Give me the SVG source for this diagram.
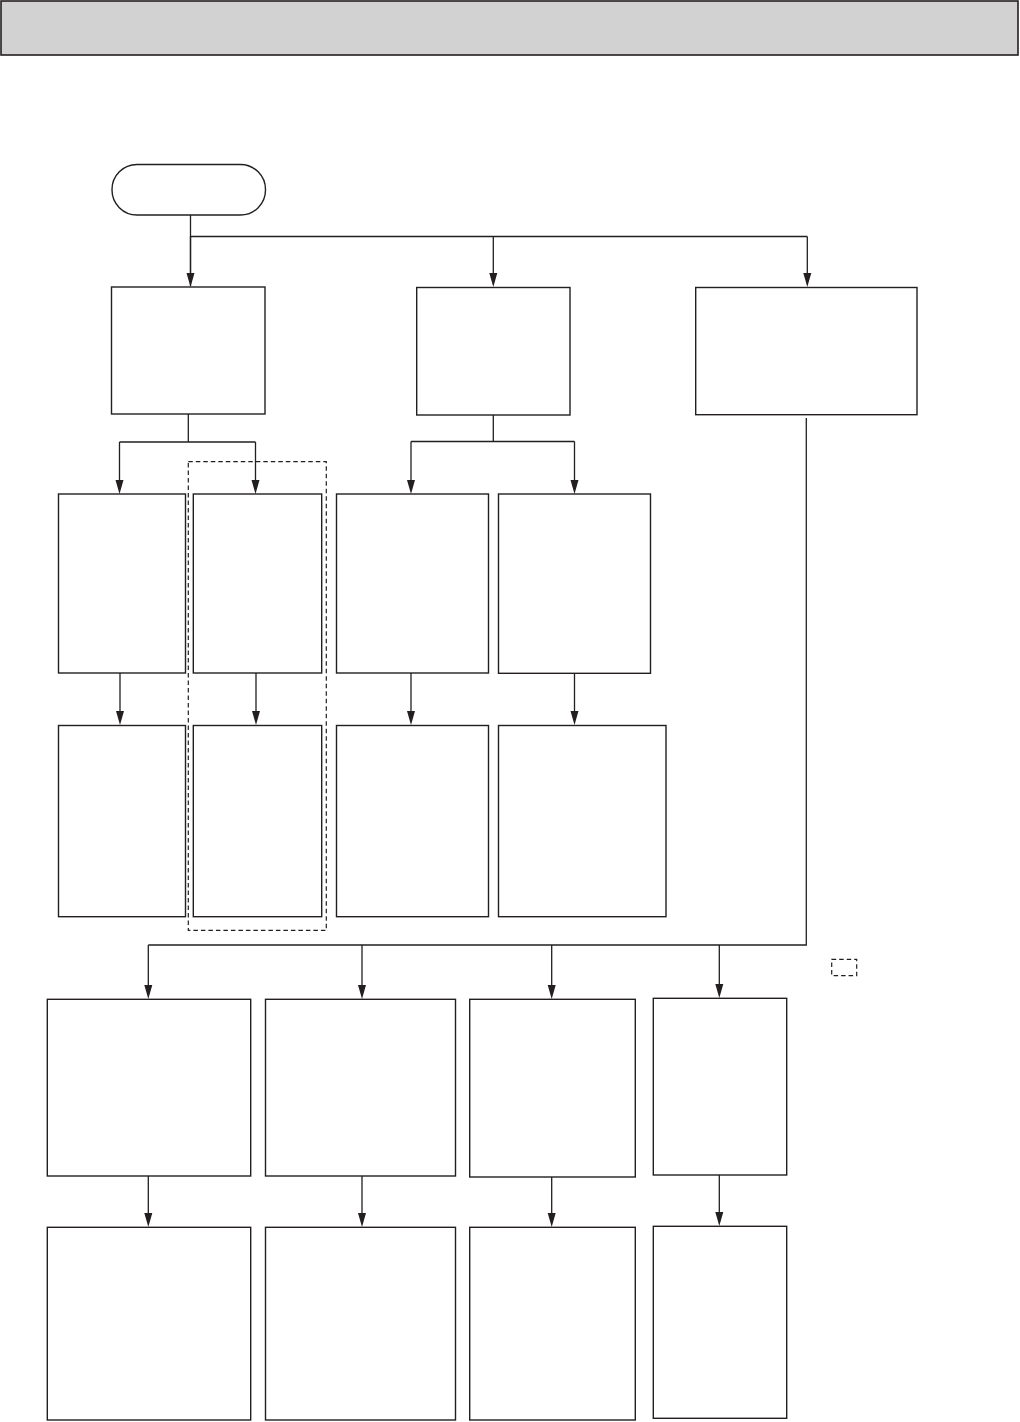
<svg xmlns="http://www.w3.org/2000/svg" width="1020" height="1422" viewBox="0 0 1020 1422">
<style>
.box{fill:#fff;stroke:#231f20;stroke-width:1.4}
.ln{fill:none;stroke:#231f20;stroke-width:1.3}
.arr{fill:none;stroke:#231f20;stroke-width:1.3;marker-end:url(#ah)}
.dash{fill:none;stroke:#231f20;stroke-width:1.2;stroke-dasharray:4.5,3}
</style>
<defs>
<marker id="ah" markerUnits="userSpaceOnUse" markerWidth="9" markerHeight="14" refX="4.5" refY="14" orient="auto-start-reverse" viewBox="0 0 9 14">
<path d="M0,0 L9,0 L4.5,14 Z" fill="#231f20" transform="rotate(0)"/>
</marker>
</defs>
<rect width="1020" height="1422" fill="#fff"/>
<rect id="header" x="1" y="1" width="1017" height="54" fill="#d2d2d2" stroke="#231f20" stroke-width="1.6"/>
<g id="connectors">
<path class="ln" d="M190.5,215 V236.5 H807.3"/>
<path class="ln" d="M190.5,236.5 V286" style="marker-end:none"/>
<path class="ln" d="M188.3,414 V442 M119.5,442 H255.5 M493.3,415 V441.5 M411,441.5 H574.5 M806.3,418 V945 H148.3"/>
</g>
<g id="arrows" fill="#231f20">
<!-- vertical arrows drawn as line + triangle -->
<path class="ln" d="M190.5,236.5 V274 M493.3,236.5 V274 M807.3,236.5 V274"/>
<path d="M186.5,273 L194.5,273 L190.5,287 Z M489.3,273 L497.3,273 L493.3,287 Z M803.3,273 L811.3,273 L807.3,287 Z"/>
<path class="ln" d="M119.5,442 V481 M255.5,442 V481 M411,441.5 V481 M574.5,441.5 V481"/>
<path d="M115.5,480 L123.5,480 L119.5,494 Z M251.5,480 L259.5,480 L255.5,494 Z M407,480 L415,480 L411,494 Z M570.5,480 L578.5,480 L574.5,494 Z"/>
<path class="ln" d="M120,673 V712 M256,673 V712 M411,673 V712 M574.5,673 V712"/>
<path d="M116,711 L124,711 L120,725 Z M252,711 L260,711 L256,725 Z M407,711 L415,711 L411,725 Z M570.5,711 L578.5,711 L574.5,725 Z"/>
<path class="ln" d="M148.3,945 V986 M362,945 V986 M551.7,945 V986 M719.3,945 V985"/>
<path d="M144.3,985 L152.3,985 L148.3,999 Z M358,985 L366,985 L362,999 Z M547.7,985 L555.7,985 L551.7,999 Z M715.3,984 L723.3,984 L719.3,998 Z"/>
<path class="ln" d="M148.3,1176 V1214 M362,1176 V1214 M551.7,1177 V1214 M719.3,1175 V1213"/>
<path d="M144.3,1213 L152.3,1213 L148.3,1227 Z M358,1213 L366,1213 L362,1227 Z M547.7,1213 L555.7,1213 L551.7,1227 Z M715.3,1212 L723.3,1212 L719.3,1226 Z"/>
</g>
<g id="start"><rect class="box" x="112" y="164.5" width="153.5" height="50.5" rx="25" ry="25"/></g>
<g id="n1"><rect class="box" x="111.5" y="287" width="153.5" height="127"/></g>
<g id="n2"><rect class="box" x="416.7" y="287.5" width="153.3" height="127.5"/></g>
<g id="n3"><rect class="box" x="695.7" y="287.5" width="221.3" height="127.2"/></g>
<g id="n2a"><rect class="box" x="58.5" y="494" width="127" height="179"/></g>
<g id="n2b"><rect class="box" x="193.3" y="494" width="128.4" height="179"/></g>
<g id="n2c"><rect class="box" x="336.5" y="494" width="152" height="179"/></g>
<g id="n2d"><rect class="box" x="498.5" y="494" width="152" height="179.3"/></g>
<g id="n3a"><rect class="box" x="58.5" y="725.5" width="127" height="191.2"/></g>
<g id="n3b"><rect class="box" x="193.3" y="725.5" width="128.4" height="191.2"/></g>
<g id="n3c"><rect class="box" x="336.5" y="725.5" width="152" height="191.2"/></g>
<g id="n3d"><rect class="box" x="498.5" y="725.5" width="167.5" height="191.2"/></g>
<g id="n4a"><rect class="box" x="47.3" y="999.3" width="203.4" height="176.7"/></g>
<g id="n4b"><rect class="box" x="265.5" y="999.3" width="190" height="176.7"/></g>
<g id="n4c"><rect class="box" x="469.7" y="999.3" width="165.6" height="177.7"/></g>
<g id="n4d"><rect class="box" x="653.3" y="998.3" width="133.4" height="176.7"/></g>
<g id="n5a"><rect class="box" x="47.3" y="1227.3" width="203.4" height="192.7"/></g>
<g id="n5b"><rect class="box" x="265.5" y="1227.3" width="190" height="192.7"/></g>
<g id="n5c"><rect class="box" x="469.7" y="1227.3" width="165.6" height="192.7"/></g>
<g id="n5d"><rect class="box" x="653.3" y="1226.3" width="133.4" height="192"/></g>
<g id="group"><rect class="dash" x="188.3" y="461.7" width="138" height="468.6"/></g>
<g id="legend"><rect class="dash" x="831.7" y="959.3" width="25" height="16.4"/></g>
</svg>
